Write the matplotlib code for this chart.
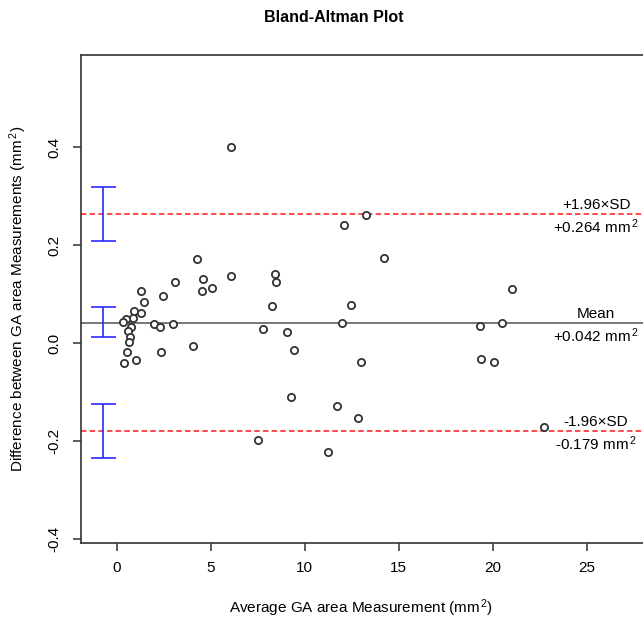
import matplotlib
matplotlib.use("Agg")
import matplotlib.pyplot as plt
import numpy as np

plt.rcParams['font.family'] = ['Liberation Sans', 'DejaVu Sans']
plt.rcParams['mathtext.fontset'] = 'custom'
plt.rcParams['mathtext.rm'] = 'Liberation Sans'
plt.rcParams['mathtext.it'] = 'Liberation Sans'

# ---- data ----
avg_area = [6.07, 4.25, 6.06, 4.57, 3.09, 5.07, 4.52, 1.30, 2.47, 1.45,
            0.93, 1.30, 0.89, 0.48, 0.36, 1.96, 2.31, 2.98, 0.77, 0.58,
            0.73, 0.63, 0.54, 2.36, 1.04, 0.37, 4.05, 8.43, 8.47, 8.26,
            7.80, 9.07, 9.44, 9.28, 7.54, 13.24, 12.10, 14.20, 12.46, 12.00,
            12.97, 11.70, 12.83, 11.23, 21.04, 19.33, 20.51, 19.39, 20.05, 22.73]
diff_area = [0.401, 0.172, 0.138, 0.130, 0.125, 0.113, 0.107, 0.107, 0.097, 0.085,
             0.066, 0.061, 0.052, 0.049, 0.044, 0.040, 0.034, 0.040, 0.033, 0.024,
             0.012, 0.002, -0.017, -0.017, -0.035, -0.041, -0.006, 0.142, 0.124, 0.075,
             0.030, 0.022, -0.014, -0.110, -0.198, 0.262, 0.242, 0.174, 0.077, 0.042,
             -0.039, -0.129, -0.153, -0.222, 0.111, 0.036, 0.042, -0.033, -0.039, -0.170]

mean_diff = 0.042
upper_loa = 0.264
lower_loa = -0.179
line_values = [upper_loa, mean_diff, lower_loa]
line_names = ["+1.96\u00d7SD", "Mean", "-1.96\u00d7SD"]
line_value_labels = ["+0.264", "+0.042", "-0.179"]

ci_x = [-0.73, -0.73, -0.73]
ci_low = [0.209, 0.012, -0.235]
ci_high = [0.319, 0.074, -0.125]

x_ticks = [0, 5, 10, 15, 20, 25]
y_ticks = [-0.4, -0.2, 0.0, 0.2, 0.4]
y_tick_labels = ["-0.4", "-0.2", "0.0", "0.2", "0.4"]

# ---- figure ----
W, H = 643, 620
fig = plt.figure(figsize=(W / 100, H / 100), dpi=100)
ax_l, ax_r, ax_t, ax_b = 81, 643, 55, 543
ax = fig.add_axes([ax_l / W, 1 - ax_b / H, (ax_r - ax_l) / W, (ax_b - ax_t) / H])
ax.set_xlim(-1.90, 27.99)
ax.set_ylim(-0.4076, 0.588)

spine_col = '#333333'
for s in ['left', 'top', 'bottom']:
    ax.spines[s].set_color(spine_col)
    ax.spines[s].set_linewidth(1.2)
ax.spines['right'].set_visible(False)

# lines
ax.axhline(mean_diff, color='#777777', lw=1.4, zorder=1)
for v in (upper_loa, lower_loa):
    ax.axhline(v, color='#ff3b3b', lw=1.3, linestyle=(0, (3.0, 1.8)), zorder=1)

# CI error bars
ci_low_a = np.array(ci_low)
ci_high_a = np.array(ci_high)
ax.errorbar(ci_x, (ci_low_a + ci_high_a) / 2, yerr=(ci_high_a - ci_low_a) / 2,
            fmt='none', ecolor='#2a2aff', elinewidth=1.2, capsize=9, capthick=1.2, zorder=2)

# points
ax.plot(avg_area, diff_area, linestyle='none', marker='o', markersize=5.2,
        markerfacecolor='white', markeredgecolor='#333333', markeredgewidth=1.3, zorder=3)

# annotations
text_x = 25.5
for name, val, vlab in zip(line_names, line_values, line_value_labels):
    ax.annotate(name, xy=(text_x, val), xytext=(0, 3.6), textcoords='offset points',
                ha='center', va='baseline', fontsize=11, color='black')
    ax.annotate(vlab + r" mm$^{\,2}$", xy=(text_x, val), xytext=(0, -13.7),
                textcoords='offset points', ha='center', va='baseline', fontsize=11,
                color='black')

# ticks
ax.set_xticks(x_ticks)
ax.set_xticklabels([str(t) for t in x_ticks])
ax.set_yticks(y_ticks)
ax.set_yticklabels(y_tick_labels, rotation=90, va='center')
ax.tick_params(axis='both', direction='out', length=6, width=1.1, color=spine_col,
               labelsize=11, labelcolor='black')
ax.tick_params(axis='x', pad=7)
ax.tick_params(axis='y', pad=8)

# axis labels & title (positioned in pixels)
fig.text(361 / W, 1 - 608 / H, r"Average GA area Measurement (mm$^{\,2}$)",
         ha='center', va='center', fontsize=11)
fig.text(18 / W, 1 - 299 / H, r"Difference between GA area Measurements (mm$^{\,2}$)",
         ha='center', va='center', rotation=90, fontsize=11)
fig.text(334 / W, 1 - 17.5 / H, "Bland-Altman Plot", ha='center', va='center',
         fontsize=11.5, fontweight='bold')

fig.savefig("out.png", dpi=100)
